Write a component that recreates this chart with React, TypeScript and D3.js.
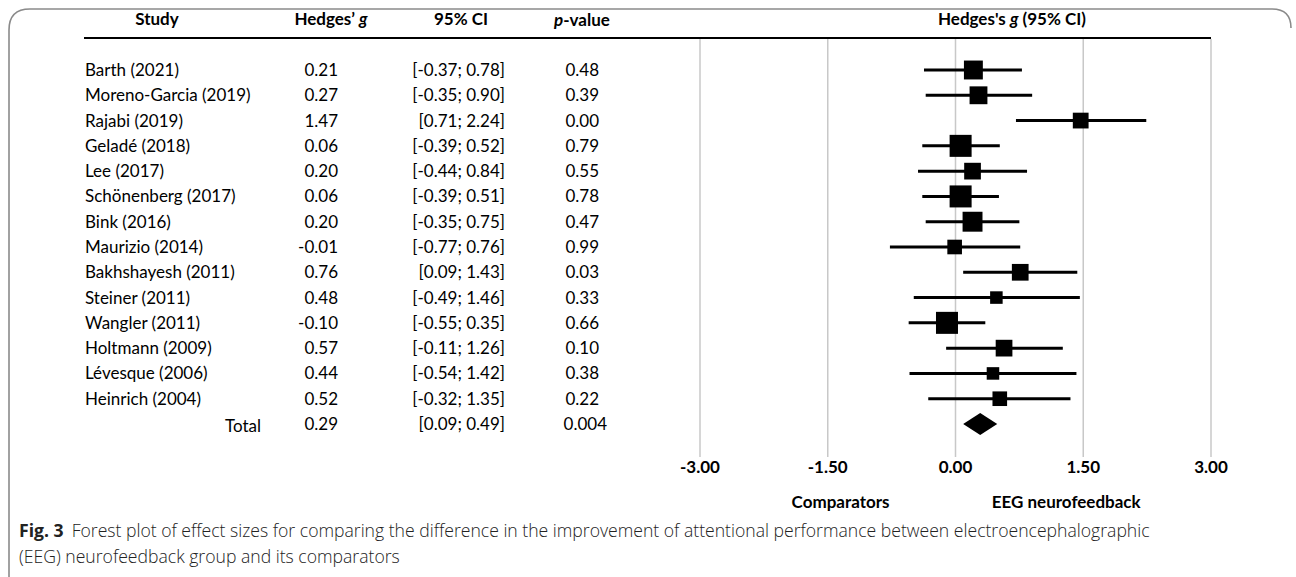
import * as d3 from "d3";

const studies = [
  "Barth (2021)", "Moreno-Garcia (2019)", "Rajabi (2019)", "Geladé (2018)", "Lee (2017)",
  "Schönenberg (2017)", "Bink (2016)", "Maurizio (2014)", "Bakhshayesh (2011)", "Steiner (2011)",
  "Wangler (2011)", "Holtmann (2009)", "Lévesque (2006)", "Heinrich (2004)",
];
const hedgesG = [0.21, 0.27, 1.47, 0.06, 0.2, 0.06, 0.2, -0.01, 0.76, 0.48, -0.1, 0.57, 0.44, 0.52];
const ciLow = [-0.37, -0.35, 0.71, -0.39, -0.44, -0.39, -0.35, -0.77, 0.09, -0.49, -0.55, -0.11, -0.54, -0.32];
const ciHigh = [0.78, 0.9, 2.24, 0.52, 0.84, 0.51, 0.75, 0.76, 1.43, 1.46, 0.35, 1.26, 1.42, 1.35];
const pValues = ["0.48", "0.39", "0.00", "0.79", "0.55", "0.78", "0.47", "0.99", "0.03", "0.33", "0.66", "0.10", "0.38", "0.22"];
// relative weight (%)
const weights = [8.2, 7.3, 5.7, 11.1, 6.4, 11.1, 9.1, 4.9, 6.4, 3.6, 11.1, 6.4, 3.6, 4.9];
const total = { g: 0.29, lo: 0.09, hi: 0.49, p: "0.004" };
const ticks = [-3, -1.5, 0, 1.5, 3];

const W = 1296;
const H = 577;
// plain hyphen for negatives, like the original table
const fmt = (v: number) => d3.format(".2f")(v).replace("−", "-");
const font = "Lato, 'Open Sans', sans-serif";

const App = () => {
  const rows = [...studies, "Total"];
  const x = d3.scaleLinear().domain([-3, 3]).range([700, 1211]);
  const y = d3.scalePoint<string>().domain(rows).range([70, 424]);
  const size = d3.scaleSqrt().domain([0, d3.max(weights) as number]).range([0, 22]);

  const colName = 85, colG = 338, colCI = 505, colP = 599;
  const headY = 25;
  const lineY = 38;

  const diamond = d3.line()([
    [x(total.lo), y("Total")!],
    [x(total.g), y("Total")! - 11],
    [x(total.hi), y("Total")!],
    [x(total.g), y("Total")! + 11],
  ]) + "Z";

  return (
    <svg width={W} height={H} style={{ position: "absolute", left: 0, top: 0, background: "#fff" }}
      fontFamily={font}>
      {/* frame */}
      <path d="M9,577 L9,30 Q9,9 30,9 L1272,9 Q1291,9 1291,28"
        fill="none" stroke="#8a8a8a" strokeWidth={1.6} />

      {/* headers */}
      <g fontWeight={700} fontSize={17} textAnchor="middle">
        <text x={157} y={headY}>Study</text>
        <text x={331} y={headY}>Hedges’ <tspan fontStyle="italic">g</tspan></text>
        <text x={461} y={headY}>95% CI</text>
        <text x={582} y={headY + 1}><tspan fontStyle="italic">p</tspan>-value</text>
        <text x={1012} y={headY}>Hedges's <tspan fontStyle="italic">g</tspan> (95% CI)</text>
      </g>
      <line x1={84} x2={x(3)} y1={lineY} y2={lineY} stroke="#000" strokeWidth={2} />

      {/* grid */}
      {ticks.map(t => (
        <line key={t} x1={x(t)} x2={x(t)} y1={lineY + 1} y2={457} stroke="#c8c8c8" strokeWidth={1.5} />
      ))}
      <g fontWeight={700} fontSize={17} textAnchor="middle">
        {ticks.map(t => (
          <text key={t} x={x(t)} y={473}>{fmt(t)}</text>
        ))}
        <text x={x(-1.35)} y={508}>Comparators</text>
        <text x={x(1.3)} y={508}>EEG neurofeedback</text>
      </g>

      {/* table */}
      <g fontSize={17}>
        {studies.map((s, i) => (
          <g key={s}>
            <text x={colName} y={y(s)! + 6}>{s}</text>
            <text x={colG} y={y(s)! + 6} textAnchor="end">{fmt(hedgesG[i])}</text>
            <text x={colCI} y={y(s)! + 6} textAnchor="end">[{fmt(ciLow[i])}; {fmt(ciHigh[i])}]</text>
            <text x={colP} y={y(s)! + 6} textAnchor="end">{pValues[i]}</text>
          </g>
        ))}
        <text x={261} y={y("Total")! + 8} textAnchor="end">Total</text>
        <text x={colG} y={y("Total")! + 6} textAnchor="end">{fmt(total.g)}</text>
        <text x={colCI} y={y("Total")! + 6} textAnchor="end">[{fmt(total.lo)}; {fmt(total.hi)}]</text>
        <text x={colP + 8} y={y("Total")! + 6} textAnchor="end">{total.p}</text>
      </g>

      {/* forest marks */}
      {studies.map((s, i) => {
        const cy = y(s)!;
        const sz = size(weights[i]);
        return (
          <g key={s}>
            <line x1={x(ciLow[i])} x2={x(ciHigh[i])} y1={cy} y2={cy} stroke="#000" strokeWidth={3} />
            <rect x={x(hedgesG[i]) - sz / 2} y={cy - sz / 2} width={sz} height={sz} fill="#000" />
          </g>
        );
      })}
      <path d={diamond} fill="#000" />

      {/* caption */}
      <g fontFamily="'Open Sans', sans-serif" fontSize={17.6} fill="#222">
        <text x={19} y={537}>
          <tspan fontWeight={700}>Fig. 3</tspan>
          <tspan fontWeight={300} dx={8}>Forest plot of effect sizes for comparing the difference in the improvement of attentional performance between electroencephalographic</tspan>
        </text>
        <text x={19} y={563} fontWeight={300}>(EEG) neurofeedback group and its comparators</text>
      </g>
    </svg>
  );
};

export default App;
